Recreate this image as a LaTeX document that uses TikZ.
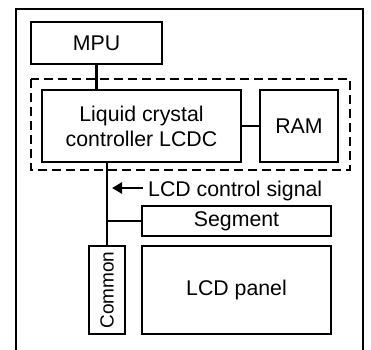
\documentclass[tikz,border=0pt]{standalone}
\usepackage{fontspec}
\setmainfont{Liberation Sans}
\usetikzlibrary{arrows.meta}
\begin{document}
\begin{tikzpicture}[x=1pt,y=-1pt,
  box/.style={draw,line width=1.1pt,inner sep=0pt,outer sep=0pt,align=center,
    font=\fontsize{21.3}{25}\selectfont},
  bus/.style={line width=2.4pt},
  lbl/.style={font=\fontsize{21.3}{25}\selectfont,inner sep=0pt}]
\useasboundingbox (0,0) rectangle (371,349);
\draw[line width=1.1pt] (16,350) -- (16,9) -- (363,9) -- (363,350);
\node[box,minimum width=131pt,minimum height=42pt] (mpu) at (96.5,43) {MPU};
\draw[line width=1.1pt,dash pattern=on 9pt off 5pt] (31,79) rectangle (350,170);
\node[box,minimum width=199pt,minimum height=72pt] (lcdc) at (141.5,126) {Liquid crystal\\controller LCDC};
\node[box,minimum width=78pt,minimum height=72pt] (ram) at (299,126) {RAM};
\node[box,minimum width=189pt,minimum height=30pt] (seg) at (236.5,221) {Segment};
\node[box,minimum width=36pt,minimum height=88pt] (com) at (107,290) {};
\node[lbl,rotate=90,font=\fontsize{19}{23}\selectfont] (comt) at (com.center) {Common};
\node[box,minimum width=189pt,minimum height=88pt] (panel) at (236.5,290) {LCD panel};
\node[lbl,anchor=base west] (sig) at (148,196) {LCD control signal};
\coordinate (a1) at (143,188);
\coordinate (a2) at (112,188);
\draw[bus] (mpu.south) -- (mpu.south |- lcdc.north);
\draw[bus] (lcdc.east) -- (ram.west);
\draw[bus] (com.north |- lcdc.south) -- (com.north);
\draw[bus] (com.north |- seg.west) -- (seg.west);
\draw[line width=2.8pt,-{Triangle[length=10pt,width=11pt]}] (a1) -- (a2);
\end{tikzpicture}
\end{document}
